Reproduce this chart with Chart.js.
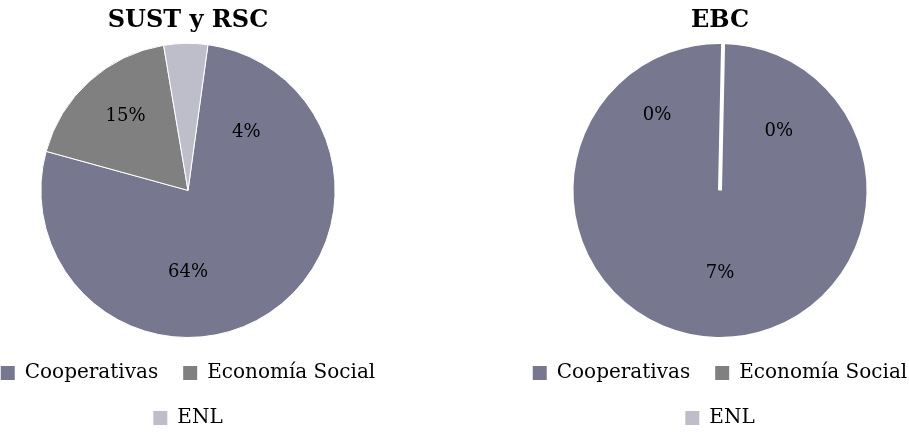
<!DOCTYPE html>
<html>
<head>
<meta charset="utf-8">
<script src="https://cdn.jsdelivr.net/npm/chart.js@4.4.0/dist/chart.umd.min.js"></script>
<style>
  html, body { margin: 0; padding: 0; background: #fff; }
  body { width: 909px; height: 432px; position: relative; overflow: hidden; }
  .panel { position: absolute; top: 0; width: 450px; height: 438px; }
</style>
</head>
<body>
<div class="panel" style="left:-37px"><canvas id="sustChart" width="450" height="438"></canvas></div>
<div class="panel" style="left:495px"><canvas id="ebcChart" width="450" height="438"></canvas></div>
<script>
const categorias = ['Cooperativas', 'Economía Social', 'ENL'];
const valoresSust = [64, 15, 4];
const valoresEbc = [7, 0, 0];
const colores = ['#77788F', '#808080', '#BEBECA'];

// donde va cada porcentaje dentro de la tarta (grados desde las 12, fraccion del radio)
const etiquetaAngulo = [180, 320, 45];
const etiquetaDist = [0.56, 0.66, 0.56];

const fuente = "'DejaVu Serif', serif";

const etiquetasPlugin = {
    id: 'etiquetas',
    afterDatasetsDraw(chart) {
        const ctx = chart.ctx;
        const meta = chart.getDatasetMeta(0);
        const valores = chart.data.datasets[0].data;
        ctx.save();
        ctx.font = '18px ' + fuente;
        ctx.fillStyle = '#000';
        ctx.textAlign = 'center';
        ctx.textBaseline = 'middle';
        meta.data.forEach((arc, i) => {
            const ang = (etiquetaAngulo[i] - 90) * Math.PI / 180;
            const r = arc.outerRadius * etiquetaDist[i];
            ctx.fillText(valores[i] + '%', arc.x + Math.cos(ang) * r, arc.y + Math.sin(ang) * r);
        });
        ctx.restore();
    }
};

function crearTarta(id, titulo, valores, giro, borde, radio) {
    const ctx = document.getElementById(id).getContext('2d');
    return new Chart(ctx, {
        type: 'pie',
        data: {
            labels: categorias,
            datasets: [{
                data: valores,
                backgroundColor: colores,
                borderColor: '#fff',
                borderWidth: borde
            }]
        },
        options: {
            responsive: false,
            animation: false,
            rotation: giro,
            radius: radio,
            plugins: {
                title: {
                    display: true,
                    text: titulo,
                    color: '#000',
                    font: { family: fuente, size: 24, weight: 'bold' },
                    padding: { top: 6, bottom: 8 }
                },
                legend: {
                    position: 'bottom',
                    labels: {
                        color: '#000',
                        font: { family: fuente, size: 20 },
                        boxWidth: 14,
                        boxHeight: 14,
                        padding: 25,
                        generateLabels: function (chart) {
                            return Chart.overrides.doughnut.plugins.legend.labels.generateLabels(chart)
                                .map(l => Object.assign(l, { lineWidth: 0 }));
                        }
                    }
                },
                tooltip: { enabled: false }
            }
        },
        plugins: [etiquetasPlugin]
    });
}

document.addEventListener('DOMContentLoaded', function () {
    crearTarta('sustChart', 'SUST y RSC', valoresSust, 7.8, 1, '100%');
    crearTarta('ebcChart', 'EBC', valoresEbc, 1.2, 4, '102%');
});
</script>
</body>
</html>
